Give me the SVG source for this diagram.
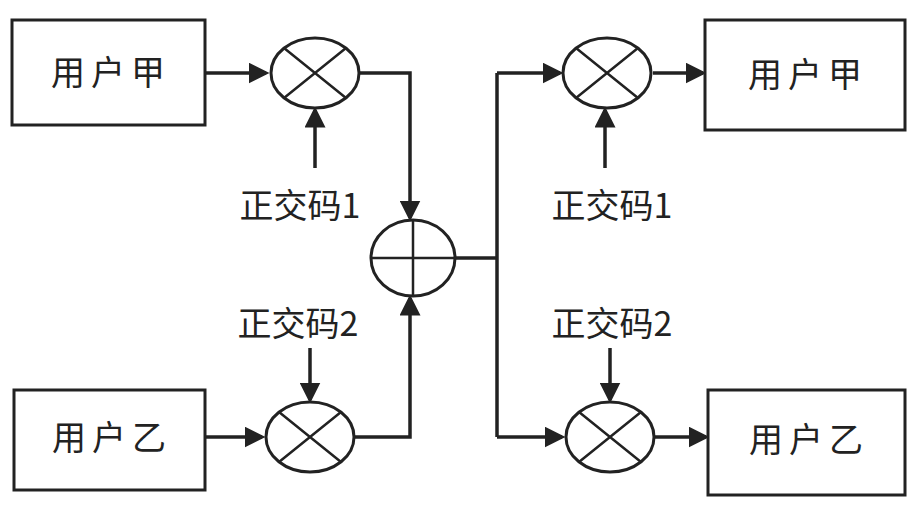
<svg xmlns="http://www.w3.org/2000/svg" width="923" height="510" viewBox="0 0 923 510">
<defs>
<marker id="a" markerWidth="6" markerHeight="6" refX="5" refY="3" orient="auto" markerUnits="strokeWidth"><path d="M0,0 L6,3 L0,6 z" fill="#222"/></marker>
</defs>
<style>
.b{fill:#fff;stroke:#222;stroke-width:3}
.c{fill:#fff;stroke:#222;stroke-width:3}
.x{stroke:#222;stroke-width:2.5;fill:none}
.l{stroke:#222;stroke-width:3.5;fill:none}
.t{font-family:"Noto Sans CJK SC","Liberation Sans",sans-serif;font-size:34px;fill:#222}
.s{letter-spacing:6px}
</style>
<rect width="923" height="510" fill="#fff"/>
<g id="connectors">
<path class="l" d="M205,73 H266" marker-end="url(#a)"/>
<path class="l" d="M360,73 H410 V218" marker-end="url(#a)"/>
<path class="l" d="M205,437 H262" marker-end="url(#a)"/>
<path class="l" d="M355,437 H410 V298" marker-end="url(#a)"/>
<path class="l" d="M455,258 H497"/>
<path class="l" d="M497,73 V437"/>
<path class="l" d="M497,73 H560" marker-end="url(#a)"/>
<path class="l" d="M497,437 H562" marker-end="url(#a)"/>
<path class="l" d="M653,73 H703" marker-end="url(#a)"/>
<path class="l" d="M655,437 H706" marker-end="url(#a)"/>
<path class="l" d="M315,168 V110" marker-end="url(#a)"/>
<path class="l" d="M605,168 V110" marker-end="url(#a)"/>
<path class="l" d="M310,348 V400" marker-end="url(#a)"/>
<path class="l" d="M610,348 V400" marker-end="url(#a)"/>
</g>
<g id="userA-left"><rect class="b" x="12" y="20" width="193" height="105"/><text class="t s" x="111" y="85" text-anchor="middle">用户甲</text></g>
<g id="userB-left"><rect class="b" x="14" y="390" width="191" height="100"/><text class="t s" x="112" y="450" text-anchor="middle">用户乙</text></g>
<g id="userA-right"><rect class="b" x="705" y="20" width="200" height="110"/><text class="t s" x="808" y="87" text-anchor="middle">用户甲</text></g>
<g id="userB-right"><rect class="b" x="708" y="390" width="197" height="105"/><text class="t s" x="809" y="452" text-anchor="middle">用户乙</text></g>
<g id="mul1"><ellipse class="c" cx="315" cy="73" rx="44" ry="35"/><path class="x" d="M284,48 L346,98 M346,48 L284,98"/></g>
<g id="mul2"><ellipse class="c" cx="310" cy="437" rx="44" ry="35"/><path class="x" d="M279,412 L341,462 M341,412 L279,462"/></g>
<g id="mul3"><ellipse class="c" cx="607" cy="73" rx="44" ry="35"/><path class="x" d="M576,48 L638,98 M638,48 L576,98"/></g>
<g id="mul4"><ellipse class="c" cx="610" cy="437" rx="44" ry="35"/><path class="x" d="M579,412 L641,462 M641,412 L579,462"/></g>
<g id="sum"><ellipse class="c" cx="413" cy="258" rx="42" ry="38"/><path class="x" d="M371,258 H455 M413,220 V296"/></g>
<g id="labels">
<text class="t" x="300" y="218" text-anchor="middle">正交码1</text>
<text class="t" x="612" y="218" text-anchor="middle">正交码1</text>
<text class="t" x="298" y="336" text-anchor="middle">正交码2</text>
<text class="t" x="612" y="336" text-anchor="middle">正交码2</text>
</g>
</svg>
